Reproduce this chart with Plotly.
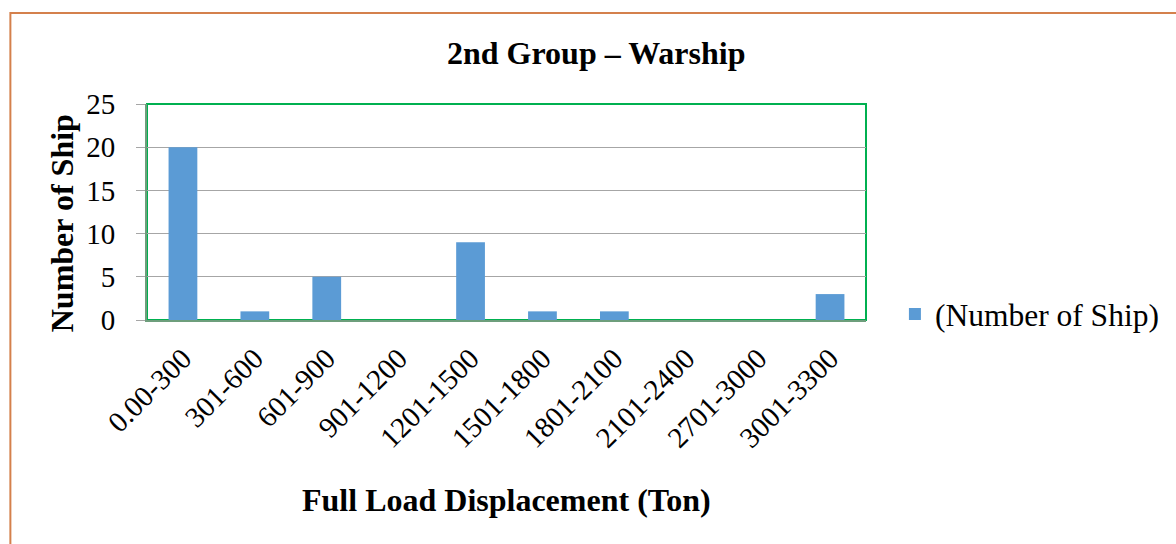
import plotly.graph_objects as go

categories = ["0.00-300", "301-600", "601-900", "901-1200", "1201-1500",
              "1501-1800", "1801-2100", "2101-2400", "2701-3000", "3001-3300"]
ships = [20, 1, 5, 0, 9, 1, 1, 0, 0, 3]
y_ticks = [0, 5, 10, 15, 20, 25]

W, H = 1176, 544
L, R, T, B = 147, 868, 104, 320
pw, ph = R - L, B - T


def px(x):
    return (x - L) / pw


def py(y):
    return (B - y) / ph


FONT = "Liberation Serif"

fig = go.Figure()
fig.add_trace(go.Bar(
    x=categories, y=ships, name="(Number of Ship)",
    marker=dict(color="#5B9BD5", line=dict(width=0)),
))

fig.update_layout(
    width=W, height=H,
    margin=dict(l=L, r=W - R, t=T, b=H - B, pad=0),
    paper_bgcolor="white", plot_bgcolor="white",
    bargap=0.6,
    font=dict(family=FONT, color="black", size=29),
    showlegend=True,
    legend=dict(x=px(897), y=py(314), xanchor="left", yanchor="middle",
                font=dict(family=FONT, size=31.5, color="black"),
                bgcolor="rgba(0,0,0,0)", itemwidth=30, tracegroupgap=0),
    xaxis=dict(
        type="category", showgrid=False, showline=True, linecolor="#6E9E7C",
        linewidth=2, ticks="", tickangle=-45,
        tickfont=dict(family=FONT, size=29, color="black"),
        ticklabelstandoff=8,
        range=[-0.5, len(categories) - 0.5],
    ),
    yaxis=dict(
        range=[0, 25], tickvals=y_ticks, showgrid=True, gridcolor="#A6A6A6",
        gridwidth=1.3, showline=True, linecolor="#6E9E7C", linewidth=2,
        ticks="outside", ticklen=9, tickcolor="#A6A6A6", tickwidth=1.3,
        tickfont=dict(family=FONT, size=29, color="black"),
        ticklabelstandoff=15, zeroline=False,
    ),
    shapes=[
        dict(type="rect", xref="paper", yref="paper", x0=0, x1=1, y0=0, y1=1,
             line=dict(color="#00B050", width=2), layer="below"),
        dict(type="rect", xref="paper", yref="paper",
             x0=px(10), x1=px(W + 20), y0=py(H + 20), y1=py(13),
             line=dict(color="#D4804C", width=2), fillcolor="rgba(0,0,0,0)"),
    ],
    annotations=[
        dict(text="<b>2nd Group – Warship</b>", xref="paper", yref="paper",
             x=px(598), y=py(53), xanchor="center", yanchor="middle",
             showarrow=False, font=dict(family=FONT, size=32, color="black")),
        dict(text="<b>Full Load Displacement (Ton)</b>", xref="paper", yref="paper",
             x=px(507), y=py(500), xanchor="center", yanchor="middle",
             showarrow=False, font=dict(family=FONT, size=32, color="black")),
        dict(text="<b>Number of Ship</b>", xref="paper", yref="paper",
             x=px(62), y=py(223), xanchor="center", yanchor="middle",
             textangle=-90, showarrow=False,
             font=dict(family=FONT, size=32, color="black")),
    ],
)

fig.write_html("out.html",
               config={"displayModeBar": False},
               post_script="document.body.style.margin='0';"
                           "document.body.style.overflow='hidden';")
